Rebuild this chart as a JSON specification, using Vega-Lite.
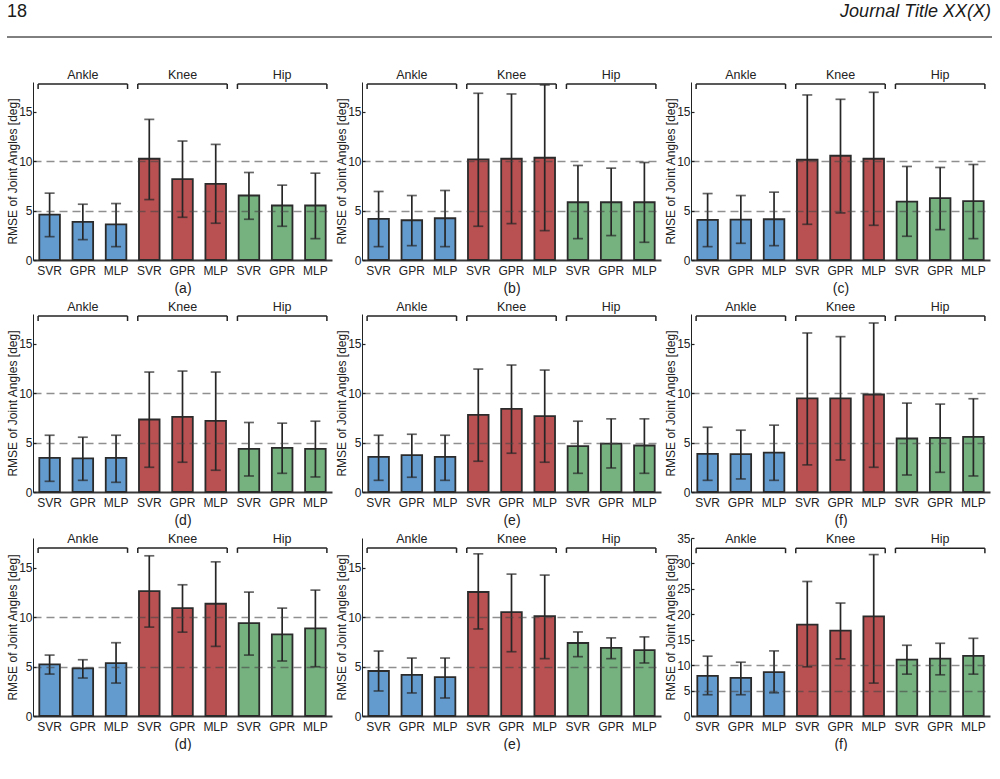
{
  "$schema": "https://vega.github.io/schema/vega-lite/v6.json",
  "padding": {"left": 6, "top": 3, "right": 0, "bottom": 0},
  "datasets": {
    "header": [
      {"side": "left", "text": "18"},
      {"side": "right", "text": "Journal Title XX(X)"}
    ],
    "rmse": [
      {"panel": "a", "joint": "Ankle", "slot": "Ankle SVR", "rmse": 4.59, "lo": 2.36, "hi": 6.76},
      {"panel": "a", "joint": "Ankle", "slot": "Ankle GPR", "rmse": 3.85, "lo": 2.06, "hi": 5.64},
      {"panel": "a", "joint": "Ankle", "slot": "Ankle MLP", "rmse": 3.61, "lo": 1.35, "hi": 5.71},
      {"panel": "a", "joint": "Knee", "slot": "Knee SVR", "rmse": 10.24, "lo": 6.11, "hi": 14.22},
      {"panel": "a", "joint": "Knee", "slot": "Knee GPR", "rmse": 8.18, "lo": 4.32, "hi": 12.03},
      {"panel": "a", "joint": "Knee", "slot": "Knee MLP", "rmse": 7.70, "lo": 3.72, "hi": 11.69},
      {"panel": "a", "joint": "Hip", "slot": "Hip SVR", "rmse": 6.52, "lo": 4.12, "hi": 8.85},
      {"panel": "a", "joint": "Hip", "slot": "Hip GPR", "rmse": 5.51, "lo": 3.41, "hi": 7.57},
      {"panel": "a", "joint": "Hip", "slot": "Hip MLP", "rmse": 5.51, "lo": 2.16, "hi": 8.78},

      {"panel": "b", "joint": "Ankle", "slot": "Ankle SVR", "rmse": 4.16, "lo": 1.35, "hi": 6.93},
      {"panel": "b", "joint": "Ankle", "slot": "Ankle GPR", "rmse": 4.02, "lo": 1.45, "hi": 6.52},
      {"panel": "b", "joint": "Ankle", "slot": "Ankle MLP", "rmse": 4.22, "lo": 1.35, "hi": 7.03},
      {"panel": "b", "joint": "Knee", "slot": "Knee SVR", "rmse": 10.17, "lo": 3.41, "hi": 16.86},
      {"panel": "b", "joint": "Knee", "slot": "Knee GPR", "rmse": 10.24, "lo": 3.68, "hi": 16.79},
      {"panel": "b", "joint": "Knee", "slot": "Knee MLP", "rmse": 10.34, "lo": 2.97, "hi": 17.70},
      {"panel": "b", "joint": "Hip", "slot": "Hip SVR", "rmse": 5.84, "lo": 2.16, "hi": 9.56},
      {"panel": "b", "joint": "Hip", "slot": "Hip GPR", "rmse": 5.84, "lo": 2.47, "hi": 9.29},
      {"panel": "b", "joint": "Hip", "slot": "Hip MLP", "rmse": 5.84, "lo": 1.79, "hi": 9.86},

      {"panel": "c", "joint": "Ankle", "slot": "Ankle SVR", "rmse": 4.05, "lo": 1.35, "hi": 6.72},
      {"panel": "c", "joint": "Ankle", "slot": "Ankle GPR", "rmse": 4.09, "lo": 1.69, "hi": 6.52},
      {"panel": "c", "joint": "Ankle", "slot": "Ankle MLP", "rmse": 4.12, "lo": 1.45, "hi": 6.86},
      {"panel": "c", "joint": "Knee", "slot": "Knee SVR", "rmse": 10.14, "lo": 3.61, "hi": 16.69},
      {"panel": "c", "joint": "Knee", "slot": "Knee GPR", "rmse": 10.54, "lo": 4.76, "hi": 16.25},
      {"panel": "c", "joint": "Knee", "slot": "Knee MLP", "rmse": 10.24, "lo": 3.51, "hi": 16.96},
      {"panel": "c", "joint": "Hip", "slot": "Hip SVR", "rmse": 5.91, "lo": 2.40, "hi": 9.46},
      {"panel": "c", "joint": "Hip", "slot": "Hip GPR", "rmse": 6.25, "lo": 3.07, "hi": 9.36},
      {"panel": "c", "joint": "Hip", "slot": "Hip MLP", "rmse": 5.95, "lo": 2.16, "hi": 9.66},

      {"panel": "d1", "joint": "Ankle", "slot": "Ankle SVR", "rmse": 3.45, "lo": 1.08, "hi": 5.74},
      {"panel": "d1", "joint": "Ankle", "slot": "Ankle GPR", "rmse": 3.41, "lo": 1.18, "hi": 5.54},
      {"panel": "d1", "joint": "Ankle", "slot": "Ankle MLP", "rmse": 3.45, "lo": 0.98, "hi": 5.74},
      {"panel": "d1", "joint": "Knee", "slot": "Knee SVR", "rmse": 7.33, "lo": 2.50, "hi": 12.13},
      {"panel": "d1", "joint": "Knee", "slot": "Knee GPR", "rmse": 7.60, "lo": 3.01, "hi": 12.23},
      {"panel": "d1", "joint": "Knee", "slot": "Knee MLP", "rmse": 7.20, "lo": 2.20, "hi": 12.13},
      {"panel": "d1", "joint": "Hip", "slot": "Hip SVR", "rmse": 4.36, "lo": 1.62, "hi": 7.03},
      {"panel": "d1", "joint": "Hip", "slot": "Hip GPR", "rmse": 4.46, "lo": 1.89, "hi": 6.96},
      {"panel": "d1", "joint": "Hip", "slot": "Hip MLP", "rmse": 4.36, "lo": 1.52, "hi": 7.16},

      {"panel": "e1", "joint": "Ankle", "slot": "Ankle SVR", "rmse": 3.55, "lo": 1.18, "hi": 5.74},
      {"panel": "e1", "joint": "Ankle", "slot": "Ankle GPR", "rmse": 3.72, "lo": 1.49, "hi": 5.84},
      {"panel": "e1", "joint": "Ankle", "slot": "Ankle MLP", "rmse": 3.55, "lo": 1.18, "hi": 5.74},
      {"panel": "e1", "joint": "Knee", "slot": "Knee SVR", "rmse": 7.80, "lo": 3.11, "hi": 12.43},
      {"panel": "e1", "joint": "Knee", "slot": "Knee GPR", "rmse": 8.41, "lo": 3.92, "hi": 12.84},
      {"panel": "e1", "joint": "Knee", "slot": "Knee MLP", "rmse": 7.67, "lo": 3.01, "hi": 12.33},
      {"panel": "e1", "joint": "Hip", "slot": "Hip SVR", "rmse": 4.63, "lo": 1.89, "hi": 7.16},
      {"panel": "e1", "joint": "Hip", "slot": "Hip GPR", "rmse": 4.90, "lo": 2.43, "hi": 7.40},
      {"panel": "e1", "joint": "Hip", "slot": "Hip MLP", "rmse": 4.70, "lo": 1.89, "hi": 7.40},

      {"panel": "f1", "joint": "Ankle", "slot": "Ankle SVR", "rmse": 3.85, "lo": 1.18, "hi": 6.55},
      {"panel": "f1", "joint": "Ankle", "slot": "Ankle GPR", "rmse": 3.82, "lo": 1.32, "hi": 6.25},
      {"panel": "f1", "joint": "Ankle", "slot": "Ankle MLP", "rmse": 3.99, "lo": 1.18, "hi": 6.76},
      {"panel": "f1", "joint": "Knee", "slot": "Knee SVR", "rmse": 9.46, "lo": 2.74, "hi": 16.08},
      {"panel": "f1", "joint": "Knee", "slot": "Knee GPR", "rmse": 9.46, "lo": 3.24, "hi": 15.71},
      {"panel": "f1", "joint": "Knee", "slot": "Knee MLP", "rmse": 9.86, "lo": 2.50, "hi": 17.09},
      {"panel": "f1", "joint": "Hip", "slot": "Hip SVR", "rmse": 5.41, "lo": 1.72, "hi": 8.99},
      {"panel": "f1", "joint": "Hip", "slot": "Hip GPR", "rmse": 5.47, "lo": 1.99, "hi": 8.89},
      {"panel": "f1", "joint": "Hip", "slot": "Hip MLP", "rmse": 5.57, "lo": 1.62, "hi": 9.43},

      {"panel": "d2", "joint": "Ankle", "slot": "Ankle SVR", "rmse": 5.22, "lo": 4.24, "hi": 6.16},
      {"panel": "d2", "joint": "Ankle", "slot": "Ankle GPR", "rmse": 4.81, "lo": 3.84, "hi": 5.69},
      {"panel": "d2", "joint": "Ankle", "slot": "Ankle MLP", "rmse": 5.35, "lo": 3.33, "hi": 7.41},
      {"panel": "d2", "joint": "Knee", "slot": "Knee SVR", "rmse": 12.63, "lo": 8.99, "hi": 16.20},
      {"panel": "d2", "joint": "Knee", "slot": "Knee GPR", "rmse": 10.91, "lo": 8.48, "hi": 13.27},
      {"panel": "d2", "joint": "Knee", "slot": "Knee MLP", "rmse": 11.35, "lo": 7.04, "hi": 15.59},
      {"panel": "d2", "joint": "Hip", "slot": "Hip SVR", "rmse": 9.39, "lo": 6.16, "hi": 12.53},
      {"panel": "d2", "joint": "Hip", "slot": "Hip GPR", "rmse": 8.25, "lo": 5.56, "hi": 10.91},
      {"panel": "d2", "joint": "Hip", "slot": "Hip MLP", "rmse": 8.86, "lo": 4.98, "hi": 12.73},

      {"panel": "e2", "joint": "Ankle", "slot": "Ankle SVR", "rmse": 4.55, "lo": 2.53, "hi": 6.57},
      {"panel": "e2", "joint": "Ankle", "slot": "Ankle GPR", "rmse": 4.15, "lo": 2.33, "hi": 5.86},
      {"panel": "e2", "joint": "Ankle", "slot": "Ankle MLP", "rmse": 3.94, "lo": 1.82, "hi": 5.86},
      {"panel": "e2", "joint": "Knee", "slot": "Knee SVR", "rmse": 12.54, "lo": 8.80, "hi": 16.40},
      {"panel": "e2", "joint": "Knee", "slot": "Knee GPR", "rmse": 10.50, "lo": 6.50, "hi": 14.35},
      {"panel": "e2", "joint": "Knee", "slot": "Knee MLP", "rmse": 10.10, "lo": 5.80, "hi": 14.25},
      {"panel": "e2", "joint": "Hip", "slot": "Hip SVR", "rmse": 7.38, "lo": 6.00, "hi": 8.50},
      {"panel": "e2", "joint": "Hip", "slot": "Hip GPR", "rmse": 6.88, "lo": 5.80, "hi": 7.90},
      {"panel": "e2", "joint": "Hip", "slot": "Hip MLP", "rmse": 6.67, "lo": 5.36, "hi": 8.00},

      {"panel": "f2", "joint": "Ankle", "slot": "Ankle SVR", "rmse": 7.90, "lo": 4.18, "hi": 11.76},
      {"panel": "f2", "joint": "Ankle", "slot": "Ankle GPR", "rmse": 7.51, "lo": 4.18, "hi": 10.58},
      {"panel": "f2", "joint": "Ankle", "slot": "Ankle MLP", "rmse": 8.62, "lo": 4.57, "hi": 12.80},
      {"panel": "f2", "joint": "Knee", "slot": "Knee SVR", "rmse": 17.96, "lo": 9.67, "hi": 26.45},
      {"panel": "f2", "joint": "Knee", "slot": "Knee GPR", "rmse": 16.79, "lo": 11.23, "hi": 22.21},
      {"panel": "f2", "joint": "Knee", "slot": "Knee MLP", "rmse": 19.60, "lo": 6.47, "hi": 31.74},
      {"panel": "f2", "joint": "Hip", "slot": "Hip SVR", "rmse": 11.10, "lo": 8.23, "hi": 13.91},
      {"panel": "f2", "joint": "Hip", "slot": "Hip GPR", "rmse": 11.30, "lo": 8.10, "hi": 14.30},
      {"panel": "f2", "joint": "Hip", "slot": "Hip MLP", "rmse": 11.82, "lo": 8.23, "hi": 15.28}
    ]
  },
  "spacing": 30,
  "vconcat": [
    {
      "width": 958,
      "height": 33,
      "data": {"name": "header"},
      "encoding": {
        "x": {"field": "side", "type": "nominal",
              "scale": {"type": "point", "domain": ["left", "right"], "padding": 0},
              "axis": null},
        "text": {"field": "text"}
      },
      "layer": [
        {"transform": [{"filter": "datum.side === 'left'"}],
         "mark": {"type": "text", "align": "left", "baseline": "middle", "fontSize": 18, "dx": -26, "dy": -8.5, "color": "#1a1a1a"}},
        {"transform": [{"filter": "datum.side === 'right'"}],
         "mark": {"type": "text", "align": "right", "baseline": "middle", "fontSize": 18, "fontStyle": "italic", "dy": -8.5, "color": "#1a1a1a"}},
        {"transform": [{"filter": "datum.side === 'left'"}],
         "mark": {"type": "rule", "xOffset": -26, "x2Offset": 1, "color": "#000000", "strokeWidth": 1},
         "encoding": {"x": {"datum": "left", "type": "nominal"}, "x2": {"datum": "right"}, "y": {"value": "height"}}}
      ]
    },
    {
      "spacing": 5,
      "vconcat": [
        {
          "spacing": 3,
          "hconcat": [
            {
              "width": 299, "height": 178,
              "data": {"name": "rmse"},
              "transform": [{"filter": "datum.panel === 'a'"}],
              "encoding": {"x": {"field": "slot", "type": "nominal", "title": "(a)", "scale": {"domain": ["Ankle SVR", "Ankle GPR", "Ankle MLP", "Knee SVR", "Knee GPR", "Knee MLP", "Hip SVR", "Hip GPR", "Hip MLP"], "paddingInner": 0.38, "paddingOuter": 0.19}, "axis": {"labelExpr": "split(datum.label, ' ')[1]"}}},
              "layer": [
                {"mark": {"type": "bar", "stroke": "#2b2b2b", "strokeWidth": 1.8},
                 "encoding": {
                   "y": {"field": "rmse", "type": "quantitative", "title": "RMSE of Joint Angles [deg]", "scale": {"domain": [0, 18], "nice": false}, "axis": {"values": [0, 5, 10, 15], "zindex": 1, "gridOpacity": {"condition": {"test": "datum.value === 5 || datum.value === 10", "value": 0.6}, "value": 0}}},
                   "color": {"field": "joint", "type": "nominal", "scale": {"domain": ["Ankle", "Knee", "Hip"], "range": ["#639BCF", "#B95052", "#76B180"]}, "legend": null}}},
                {"mark": {"type": "errorbar", "ticks": {"size": 10}, "thickness": 1.7, "color": "#262626"},
                 "encoding": {"y": {"field": "lo", "type": "quantitative", "title": "RMSE of Joint Angles [deg]"}, "y2": {"field": "hi"}}},
                {"transform": [{"filter": "indexof(datum.slot, 'GPR') > 0"}],
                 "mark": {"type": "rule", "xOffset": -44.7, "x2Offset": 44.7, "color": "#222222", "strokeWidth": 1.5},
                 "encoding": {"x2": {"field": "slot"}, "y": {"datum": 17.8}}},
                {"transform": [{"filter": "indexof(datum.slot, 'SVR') > 0"}],
                 "mark": {"type": "rule", "xOffset": -11.5, "y2Offset": 5, "color": "#222222", "strokeWidth": 1.5},
                 "encoding": {"y": {"datum": 17.8}, "y2": {"datum": 17.8}}},
                {"transform": [{"filter": "indexof(datum.slot, 'MLP') > 0"}],
                 "mark": {"type": "rule", "xOffset": 11.5, "y2Offset": 5, "color": "#222222", "strokeWidth": 1.5},
                 "encoding": {"y": {"datum": 17.8}, "y2": {"datum": 17.8}}},
                {"transform": [{"filter": "indexof(datum.slot, 'GPR') > 0"}],
                 "mark": {"type": "text", "yOffset": -9, "fontSize": 12.5, "color": "#222222"},
                 "encoding": {"y": {"datum": 17.8}, "text": {"field": "joint"}}}
              ]
            },
            {
              "width": 299, "height": 178,
              "data": {"name": "rmse"},
              "transform": [{"filter": "datum.panel === 'b'"}],
              "encoding": {"x": {"field": "slot", "type": "nominal", "title": "(b)", "scale": {"domain": ["Ankle SVR", "Ankle GPR", "Ankle MLP", "Knee SVR", "Knee GPR", "Knee MLP", "Hip SVR", "Hip GPR", "Hip MLP"], "paddingInner": 0.38, "paddingOuter": 0.19}, "axis": {"labelExpr": "split(datum.label, ' ')[1]"}}},
              "layer": [
                {"mark": {"type": "bar", "stroke": "#2b2b2b", "strokeWidth": 1.8},
                 "encoding": {
                   "y": {"field": "rmse", "type": "quantitative", "title": "RMSE of Joint Angles [deg]", "scale": {"domain": [0, 18], "nice": false}, "axis": {"values": [0, 5, 10, 15], "zindex": 1, "gridOpacity": {"condition": {"test": "datum.value === 5 || datum.value === 10", "value": 0.6}, "value": 0}}},
                   "color": {"field": "joint", "type": "nominal", "scale": {"domain": ["Ankle", "Knee", "Hip"], "range": ["#639BCF", "#B95052", "#76B180"]}, "legend": null}}},
                {"mark": {"type": "errorbar", "ticks": {"size": 10}, "thickness": 1.7, "color": "#262626"},
                 "encoding": {"y": {"field": "lo", "type": "quantitative", "title": "RMSE of Joint Angles [deg]"}, "y2": {"field": "hi"}}},
                {"transform": [{"filter": "indexof(datum.slot, 'GPR') > 0"}],
                 "mark": {"type": "rule", "xOffset": -44.7, "x2Offset": 44.7, "color": "#222222", "strokeWidth": 1.5},
                 "encoding": {"x2": {"field": "slot"}, "y": {"datum": 17.8}}},
                {"transform": [{"filter": "indexof(datum.slot, 'SVR') > 0"}],
                 "mark": {"type": "rule", "xOffset": -11.5, "y2Offset": 5, "color": "#222222", "strokeWidth": 1.5},
                 "encoding": {"y": {"datum": 17.8}, "y2": {"datum": 17.8}}},
                {"transform": [{"filter": "indexof(datum.slot, 'MLP') > 0"}],
                 "mark": {"type": "rule", "xOffset": 11.5, "y2Offset": 5, "color": "#222222", "strokeWidth": 1.5},
                 "encoding": {"y": {"datum": 17.8}, "y2": {"datum": 17.8}}},
                {"transform": [{"filter": "indexof(datum.slot, 'GPR') > 0"}],
                 "mark": {"type": "text", "yOffset": -9, "fontSize": 12.5, "color": "#222222"},
                 "encoding": {"y": {"datum": 17.8}, "text": {"field": "joint"}}}
              ]
            },
            {
              "width": 299, "height": 178,
              "data": {"name": "rmse"},
              "transform": [{"filter": "datum.panel === 'c'"}],
              "encoding": {"x": {"field": "slot", "type": "nominal", "title": "(c)", "scale": {"domain": ["Ankle SVR", "Ankle GPR", "Ankle MLP", "Knee SVR", "Knee GPR", "Knee MLP", "Hip SVR", "Hip GPR", "Hip MLP"], "paddingInner": 0.38, "paddingOuter": 0.19}, "axis": {"labelExpr": "split(datum.label, ' ')[1]"}}},
              "layer": [
                {"mark": {"type": "bar", "stroke": "#2b2b2b", "strokeWidth": 1.8},
                 "encoding": {
                   "y": {"field": "rmse", "type": "quantitative", "title": "RMSE of Joint Angles [deg]", "scale": {"domain": [0, 18], "nice": false}, "axis": {"values": [0, 5, 10, 15], "zindex": 1, "gridOpacity": {"condition": {"test": "datum.value === 5 || datum.value === 10", "value": 0.6}, "value": 0}}},
                   "color": {"field": "joint", "type": "nominal", "scale": {"domain": ["Ankle", "Knee", "Hip"], "range": ["#639BCF", "#B95052", "#76B180"]}, "legend": null}}},
                {"mark": {"type": "errorbar", "ticks": {"size": 10}, "thickness": 1.7, "color": "#262626"},
                 "encoding": {"y": {"field": "lo", "type": "quantitative", "title": "RMSE of Joint Angles [deg]"}, "y2": {"field": "hi"}}},
                {"transform": [{"filter": "indexof(datum.slot, 'GPR') > 0"}],
                 "mark": {"type": "rule", "xOffset": -44.7, "x2Offset": 44.7, "color": "#222222", "strokeWidth": 1.5},
                 "encoding": {"x2": {"field": "slot"}, "y": {"datum": 17.8}}},
                {"transform": [{"filter": "indexof(datum.slot, 'SVR') > 0"}],
                 "mark": {"type": "rule", "xOffset": -11.5, "y2Offset": 5, "color": "#222222", "strokeWidth": 1.5},
                 "encoding": {"y": {"datum": 17.8}, "y2": {"datum": 17.8}}},
                {"transform": [{"filter": "indexof(datum.slot, 'MLP') > 0"}],
                 "mark": {"type": "rule", "xOffset": 11.5, "y2Offset": 5, "color": "#222222", "strokeWidth": 1.5},
                 "encoding": {"y": {"datum": 17.8}, "y2": {"datum": 17.8}}},
                {"transform": [{"filter": "indexof(datum.slot, 'GPR') > 0"}],
                 "mark": {"type": "text", "yOffset": -9, "fontSize": 12.5, "color": "#222222"},
                 "encoding": {"y": {"datum": 17.8}, "text": {"field": "joint"}}}
              ]
            }
          ]
        },
        {
          "spacing": 3,
          "hconcat": [
            {
              "width": 299, "height": 178,
              "data": {"name": "rmse"},
              "transform": [{"filter": "datum.panel === 'd1'"}],
              "encoding": {"x": {"field": "slot", "type": "nominal", "title": "(d)", "scale": {"domain": ["Ankle SVR", "Ankle GPR", "Ankle MLP", "Knee SVR", "Knee GPR", "Knee MLP", "Hip SVR", "Hip GPR", "Hip MLP"], "paddingInner": 0.38, "paddingOuter": 0.19}, "axis": {"labelExpr": "split(datum.label, ' ')[1]"}}},
              "layer": [
                {"mark": {"type": "bar", "stroke": "#2b2b2b", "strokeWidth": 1.8},
                 "encoding": {
                   "y": {"field": "rmse", "type": "quantitative", "title": "RMSE of Joint Angles [deg]", "scale": {"domain": [0, 18], "nice": false}, "axis": {"values": [0, 5, 10, 15], "zindex": 1, "gridOpacity": {"condition": {"test": "datum.value === 5 || datum.value === 10", "value": 0.6}, "value": 0}}},
                   "color": {"field": "joint", "type": "nominal", "scale": {"domain": ["Ankle", "Knee", "Hip"], "range": ["#639BCF", "#B95052", "#76B180"]}, "legend": null}}},
                {"mark": {"type": "errorbar", "ticks": {"size": 10}, "thickness": 1.7, "color": "#262626"},
                 "encoding": {"y": {"field": "lo", "type": "quantitative", "title": "RMSE of Joint Angles [deg]"}, "y2": {"field": "hi"}}},
                {"transform": [{"filter": "indexof(datum.slot, 'GPR') > 0"}],
                 "mark": {"type": "rule", "xOffset": -44.7, "x2Offset": 44.7, "color": "#222222", "strokeWidth": 1.5},
                 "encoding": {"x2": {"field": "slot"}, "y": {"datum": 17.8}}},
                {"transform": [{"filter": "indexof(datum.slot, 'SVR') > 0"}],
                 "mark": {"type": "rule", "xOffset": -11.5, "y2Offset": 5, "color": "#222222", "strokeWidth": 1.5},
                 "encoding": {"y": {"datum": 17.8}, "y2": {"datum": 17.8}}},
                {"transform": [{"filter": "indexof(datum.slot, 'MLP') > 0"}],
                 "mark": {"type": "rule", "xOffset": 11.5, "y2Offset": 5, "color": "#222222", "strokeWidth": 1.5},
                 "encoding": {"y": {"datum": 17.8}, "y2": {"datum": 17.8}}},
                {"transform": [{"filter": "indexof(datum.slot, 'GPR') > 0"}],
                 "mark": {"type": "text", "yOffset": -9, "fontSize": 12.5, "color": "#222222"},
                 "encoding": {"y": {"datum": 17.8}, "text": {"field": "joint"}}}
              ]
            },
            {
              "width": 299, "height": 178,
              "data": {"name": "rmse"},
              "transform": [{"filter": "datum.panel === 'e1'"}],
              "encoding": {"x": {"field": "slot", "type": "nominal", "title": "(e)", "scale": {"domain": ["Ankle SVR", "Ankle GPR", "Ankle MLP", "Knee SVR", "Knee GPR", "Knee MLP", "Hip SVR", "Hip GPR", "Hip MLP"], "paddingInner": 0.38, "paddingOuter": 0.19}, "axis": {"labelExpr": "split(datum.label, ' ')[1]"}}},
              "layer": [
                {"mark": {"type": "bar", "stroke": "#2b2b2b", "strokeWidth": 1.8},
                 "encoding": {
                   "y": {"field": "rmse", "type": "quantitative", "title": "RMSE of Joint Angles [deg]", "scale": {"domain": [0, 18], "nice": false}, "axis": {"values": [0, 5, 10, 15], "zindex": 1, "gridOpacity": {"condition": {"test": "datum.value === 5 || datum.value === 10", "value": 0.6}, "value": 0}}},
                   "color": {"field": "joint", "type": "nominal", "scale": {"domain": ["Ankle", "Knee", "Hip"], "range": ["#639BCF", "#B95052", "#76B180"]}, "legend": null}}},
                {"mark": {"type": "errorbar", "ticks": {"size": 10}, "thickness": 1.7, "color": "#262626"},
                 "encoding": {"y": {"field": "lo", "type": "quantitative", "title": "RMSE of Joint Angles [deg]"}, "y2": {"field": "hi"}}},
                {"transform": [{"filter": "indexof(datum.slot, 'GPR') > 0"}],
                 "mark": {"type": "rule", "xOffset": -44.7, "x2Offset": 44.7, "color": "#222222", "strokeWidth": 1.5},
                 "encoding": {"x2": {"field": "slot"}, "y": {"datum": 17.8}}},
                {"transform": [{"filter": "indexof(datum.slot, 'SVR') > 0"}],
                 "mark": {"type": "rule", "xOffset": -11.5, "y2Offset": 5, "color": "#222222", "strokeWidth": 1.5},
                 "encoding": {"y": {"datum": 17.8}, "y2": {"datum": 17.8}}},
                {"transform": [{"filter": "indexof(datum.slot, 'MLP') > 0"}],
                 "mark": {"type": "rule", "xOffset": 11.5, "y2Offset": 5, "color": "#222222", "strokeWidth": 1.5},
                 "encoding": {"y": {"datum": 17.8}, "y2": {"datum": 17.8}}},
                {"transform": [{"filter": "indexof(datum.slot, 'GPR') > 0"}],
                 "mark": {"type": "text", "yOffset": -9, "fontSize": 12.5, "color": "#222222"},
                 "encoding": {"y": {"datum": 17.8}, "text": {"field": "joint"}}}
              ]
            },
            {
              "width": 299, "height": 178,
              "data": {"name": "rmse"},
              "transform": [{"filter": "datum.panel === 'f1'"}],
              "encoding": {"x": {"field": "slot", "type": "nominal", "title": "(f)", "scale": {"domain": ["Ankle SVR", "Ankle GPR", "Ankle MLP", "Knee SVR", "Knee GPR", "Knee MLP", "Hip SVR", "Hip GPR", "Hip MLP"], "paddingInner": 0.38, "paddingOuter": 0.19}, "axis": {"labelExpr": "split(datum.label, ' ')[1]"}}},
              "layer": [
                {"mark": {"type": "bar", "stroke": "#2b2b2b", "strokeWidth": 1.8},
                 "encoding": {
                   "y": {"field": "rmse", "type": "quantitative", "title": "RMSE of Joint Angles [deg]", "scale": {"domain": [0, 18], "nice": false}, "axis": {"values": [0, 5, 10, 15], "zindex": 1, "gridOpacity": {"condition": {"test": "datum.value === 5 || datum.value === 10", "value": 0.6}, "value": 0}}},
                   "color": {"field": "joint", "type": "nominal", "scale": {"domain": ["Ankle", "Knee", "Hip"], "range": ["#639BCF", "#B95052", "#76B180"]}, "legend": null}}},
                {"mark": {"type": "errorbar", "ticks": {"size": 10}, "thickness": 1.7, "color": "#262626"},
                 "encoding": {"y": {"field": "lo", "type": "quantitative", "title": "RMSE of Joint Angles [deg]"}, "y2": {"field": "hi"}}},
                {"transform": [{"filter": "indexof(datum.slot, 'GPR') > 0"}],
                 "mark": {"type": "rule", "xOffset": -44.7, "x2Offset": 44.7, "color": "#222222", "strokeWidth": 1.5},
                 "encoding": {"x2": {"field": "slot"}, "y": {"datum": 17.8}}},
                {"transform": [{"filter": "indexof(datum.slot, 'SVR') > 0"}],
                 "mark": {"type": "rule", "xOffset": -11.5, "y2Offset": 5, "color": "#222222", "strokeWidth": 1.5},
                 "encoding": {"y": {"datum": 17.8}, "y2": {"datum": 17.8}}},
                {"transform": [{"filter": "indexof(datum.slot, 'MLP') > 0"}],
                 "mark": {"type": "rule", "xOffset": 11.5, "y2Offset": 5, "color": "#222222", "strokeWidth": 1.5},
                 "encoding": {"y": {"datum": 17.8}, "y2": {"datum": 17.8}}},
                {"transform": [{"filter": "indexof(datum.slot, 'GPR') > 0"}],
                 "mark": {"type": "text", "yOffset": -9, "fontSize": 12.5, "color": "#222222"},
                 "encoding": {"y": {"datum": 17.8}, "text": {"field": "joint"}}}
              ]
            }
          ]
        },
        {
          "spacing": 3,
          "hconcat": [
            {
              "width": 299, "height": 178,
              "data": {"name": "rmse"},
              "transform": [{"filter": "datum.panel === 'd2'"}],
              "encoding": {"x": {"field": "slot", "type": "nominal", "title": "(d)", "scale": {"domain": ["Ankle SVR", "Ankle GPR", "Ankle MLP", "Knee SVR", "Knee GPR", "Knee MLP", "Hip SVR", "Hip GPR", "Hip MLP"], "paddingInner": 0.38, "paddingOuter": 0.19}, "axis": {"labelExpr": "split(datum.label, ' ')[1]"}}},
              "layer": [
                {"mark": {"type": "bar", "stroke": "#2b2b2b", "strokeWidth": 1.8},
                 "encoding": {
                   "y": {"field": "rmse", "type": "quantitative", "title": "RMSE of Joint Angles [deg]", "scale": {"domain": [0, 18], "nice": false}, "axis": {"values": [0, 5, 10, 15], "zindex": 1, "gridOpacity": {"condition": {"test": "datum.value === 5 || datum.value === 10", "value": 0.6}, "value": 0}}},
                   "color": {"field": "joint", "type": "nominal", "scale": {"domain": ["Ankle", "Knee", "Hip"], "range": ["#639BCF", "#B95052", "#76B180"]}, "legend": null}}},
                {"mark": {"type": "errorbar", "ticks": {"size": 10}, "thickness": 1.7, "color": "#262626"},
                 "encoding": {"y": {"field": "lo", "type": "quantitative", "title": "RMSE of Joint Angles [deg]"}, "y2": {"field": "hi"}}},
                {"transform": [{"filter": "indexof(datum.slot, 'GPR') > 0"}],
                 "mark": {"type": "rule", "xOffset": -44.7, "x2Offset": 44.7, "color": "#222222", "strokeWidth": 1.5},
                 "encoding": {"x2": {"field": "slot"}, "y": {"datum": 17.0}}},
                {"transform": [{"filter": "indexof(datum.slot, 'SVR') > 0"}],
                 "mark": {"type": "rule", "xOffset": -11.5, "y2Offset": 5, "color": "#222222", "strokeWidth": 1.5},
                 "encoding": {"y": {"datum": 17.0}, "y2": {"datum": 17.0}}},
                {"transform": [{"filter": "indexof(datum.slot, 'MLP') > 0"}],
                 "mark": {"type": "rule", "xOffset": 11.5, "y2Offset": 5, "color": "#222222", "strokeWidth": 1.5},
                 "encoding": {"y": {"datum": 17.0}, "y2": {"datum": 17.0}}},
                {"transform": [{"filter": "indexof(datum.slot, 'GPR') > 0"}],
                 "mark": {"type": "text", "yOffset": -9, "fontSize": 12.5, "color": "#222222"},
                 "encoding": {"y": {"datum": 17.0}, "text": {"field": "joint"}}}
              ]
            },
            {
              "width": 299, "height": 178,
              "data": {"name": "rmse"},
              "transform": [{"filter": "datum.panel === 'e2'"}],
              "encoding": {"x": {"field": "slot", "type": "nominal", "title": "(e)", "scale": {"domain": ["Ankle SVR", "Ankle GPR", "Ankle MLP", "Knee SVR", "Knee GPR", "Knee MLP", "Hip SVR", "Hip GPR", "Hip MLP"], "paddingInner": 0.38, "paddingOuter": 0.19}, "axis": {"labelExpr": "split(datum.label, ' ')[1]"}}},
              "layer": [
                {"mark": {"type": "bar", "stroke": "#2b2b2b", "strokeWidth": 1.8},
                 "encoding": {
                   "y": {"field": "rmse", "type": "quantitative", "title": "RMSE of Joint Angles [deg]", "scale": {"domain": [0, 18], "nice": false}, "axis": {"values": [0, 5, 10, 15], "zindex": 1, "gridOpacity": {"condition": {"test": "datum.value === 5 || datum.value === 10", "value": 0.6}, "value": 0}}},
                   "color": {"field": "joint", "type": "nominal", "scale": {"domain": ["Ankle", "Knee", "Hip"], "range": ["#639BCF", "#B95052", "#76B180"]}, "legend": null}}},
                {"mark": {"type": "errorbar", "ticks": {"size": 10}, "thickness": 1.7, "color": "#262626"},
                 "encoding": {"y": {"field": "lo", "type": "quantitative", "title": "RMSE of Joint Angles [deg]"}, "y2": {"field": "hi"}}},
                {"transform": [{"filter": "indexof(datum.slot, 'GPR') > 0"}],
                 "mark": {"type": "rule", "xOffset": -44.7, "x2Offset": 44.7, "color": "#222222", "strokeWidth": 1.5},
                 "encoding": {"x2": {"field": "slot"}, "y": {"datum": 17.0}}},
                {"transform": [{"filter": "indexof(datum.slot, 'SVR') > 0"}],
                 "mark": {"type": "rule", "xOffset": -11.5, "y2Offset": 5, "color": "#222222", "strokeWidth": 1.5},
                 "encoding": {"y": {"datum": 17.0}, "y2": {"datum": 17.0}}},
                {"transform": [{"filter": "indexof(datum.slot, 'MLP') > 0"}],
                 "mark": {"type": "rule", "xOffset": 11.5, "y2Offset": 5, "color": "#222222", "strokeWidth": 1.5},
                 "encoding": {"y": {"datum": 17.0}, "y2": {"datum": 17.0}}},
                {"transform": [{"filter": "indexof(datum.slot, 'GPR') > 0"}],
                 "mark": {"type": "text", "yOffset": -9, "fontSize": 12.5, "color": "#222222"},
                 "encoding": {"y": {"datum": 17.0}, "text": {"field": "joint"}}}
              ]
            },
            {
              "width": 299, "height": 178,
              "data": {"name": "rmse"},
              "transform": [{"filter": "datum.panel === 'f2'"}],
              "encoding": {"x": {"field": "slot", "type": "nominal", "title": "(f)", "scale": {"domain": ["Ankle SVR", "Ankle GPR", "Ankle MLP", "Knee SVR", "Knee GPR", "Knee MLP", "Hip SVR", "Hip GPR", "Hip MLP"], "paddingInner": 0.38, "paddingOuter": 0.19}, "axis": {"labelExpr": "split(datum.label, ' ')[1]"}}},
              "layer": [
                {"mark": {"type": "bar", "stroke": "#2b2b2b", "strokeWidth": 1.8},
                 "encoding": {
                   "y": {"field": "rmse", "type": "quantitative", "title": "RMSE of Joint Angles [deg]", "scale": {"domain": [0, 35], "nice": false}, "axis": {"values": [0, 5, 10, 15, 20, 25, 30, 35], "labelOverlap": false, "zindex": 1, "gridOpacity": {"condition": {"test": "datum.value === 5 || datum.value === 10", "value": 0.6}, "value": 0}}},
                   "color": {"field": "joint", "type": "nominal", "scale": {"domain": ["Ankle", "Knee", "Hip"], "range": ["#639BCF", "#B95052", "#76B180"]}, "legend": null}}},
                {"mark": {"type": "errorbar", "ticks": {"size": 10}, "thickness": 1.7, "color": "#262626"},
                 "encoding": {"y": {"field": "lo", "type": "quantitative", "title": "RMSE of Joint Angles [deg]", "axis": {"values": [0, 5, 10, 15, 20, 25, 30, 35], "labelOverlap": false}}, "y2": {"field": "hi"}}},
                {"transform": [{"filter": "indexof(datum.slot, 'GPR') > 0"}],
                 "mark": {"type": "rule", "xOffset": -44.7, "x2Offset": 44.7, "color": "#222222", "strokeWidth": 1.5},
                 "encoding": {"x2": {"field": "slot"}, "y": {"datum": 33, "axis": {"values": [0, 5, 10, 15, 20, 25, 30, 35], "labelOverlap": false}}}},
                {"transform": [{"filter": "indexof(datum.slot, 'SVR') > 0"}],
                 "mark": {"type": "rule", "xOffset": -11.5, "y2Offset": 5, "color": "#222222", "strokeWidth": 1.5},
                 "encoding": {"y": {"datum": 33, "axis": {"values": [0, 5, 10, 15, 20, 25, 30, 35], "labelOverlap": false}}, "y2": {"datum": 33}}},
                {"transform": [{"filter": "indexof(datum.slot, 'MLP') > 0"}],
                 "mark": {"type": "rule", "xOffset": 11.5, "y2Offset": 5, "color": "#222222", "strokeWidth": 1.5},
                 "encoding": {"y": {"datum": 33, "axis": {"values": [0, 5, 10, 15, 20, 25, 30, 35], "labelOverlap": false}}, "y2": {"datum": 33}}},
                {"transform": [{"filter": "indexof(datum.slot, 'GPR') > 0"}],
                 "mark": {"type": "text", "yOffset": -9, "fontSize": 12.5, "color": "#222222"},
                 "encoding": {"y": {"datum": 33, "axis": {"values": [0, 5, 10, 15, 20, 25, 30, 35], "labelOverlap": false}}, "text": {"field": "joint"}}}
              ]
            }
          ]
        }
      ]
    }
  ],
  "config": {
    "font": "Liberation Sans",
    "view": {"stroke": null},
    "axis": {
      "labelFont": "Liberation Sans",
      "titleFont": "Liberation Sans",
      "labelColor": "#222222",
      "titleColor": "#222222",
      "titleFontWeight": "normal",
      "domainColor": "#222222",
      "tickColor": "#222222",
      "grid": false
    },
    "axisX": {
      "ticks": false,
      "domainWidth": 2,
      "domainColor": "#3a3a3a",
      "labelAngle": 0,
      "labelFontSize": 12,
      "labelPadding": 5,
      "titleFontSize": 14,
      "titlePadding": 5
    },
    "axisY": {
      "domainWidth": 1,
      "tickSize": -3,
      "tickWidth": 1.2,
      "labelFontSize": 12,
      "labelPadding": 4,
      "titleFontSize": 12,
      "titlePadding": -1,
      "grid": true,
      "gridDash": [8, 5],
      "gridColor": "#444444",
      "gridWidth": 1.3
    }
  }
}
